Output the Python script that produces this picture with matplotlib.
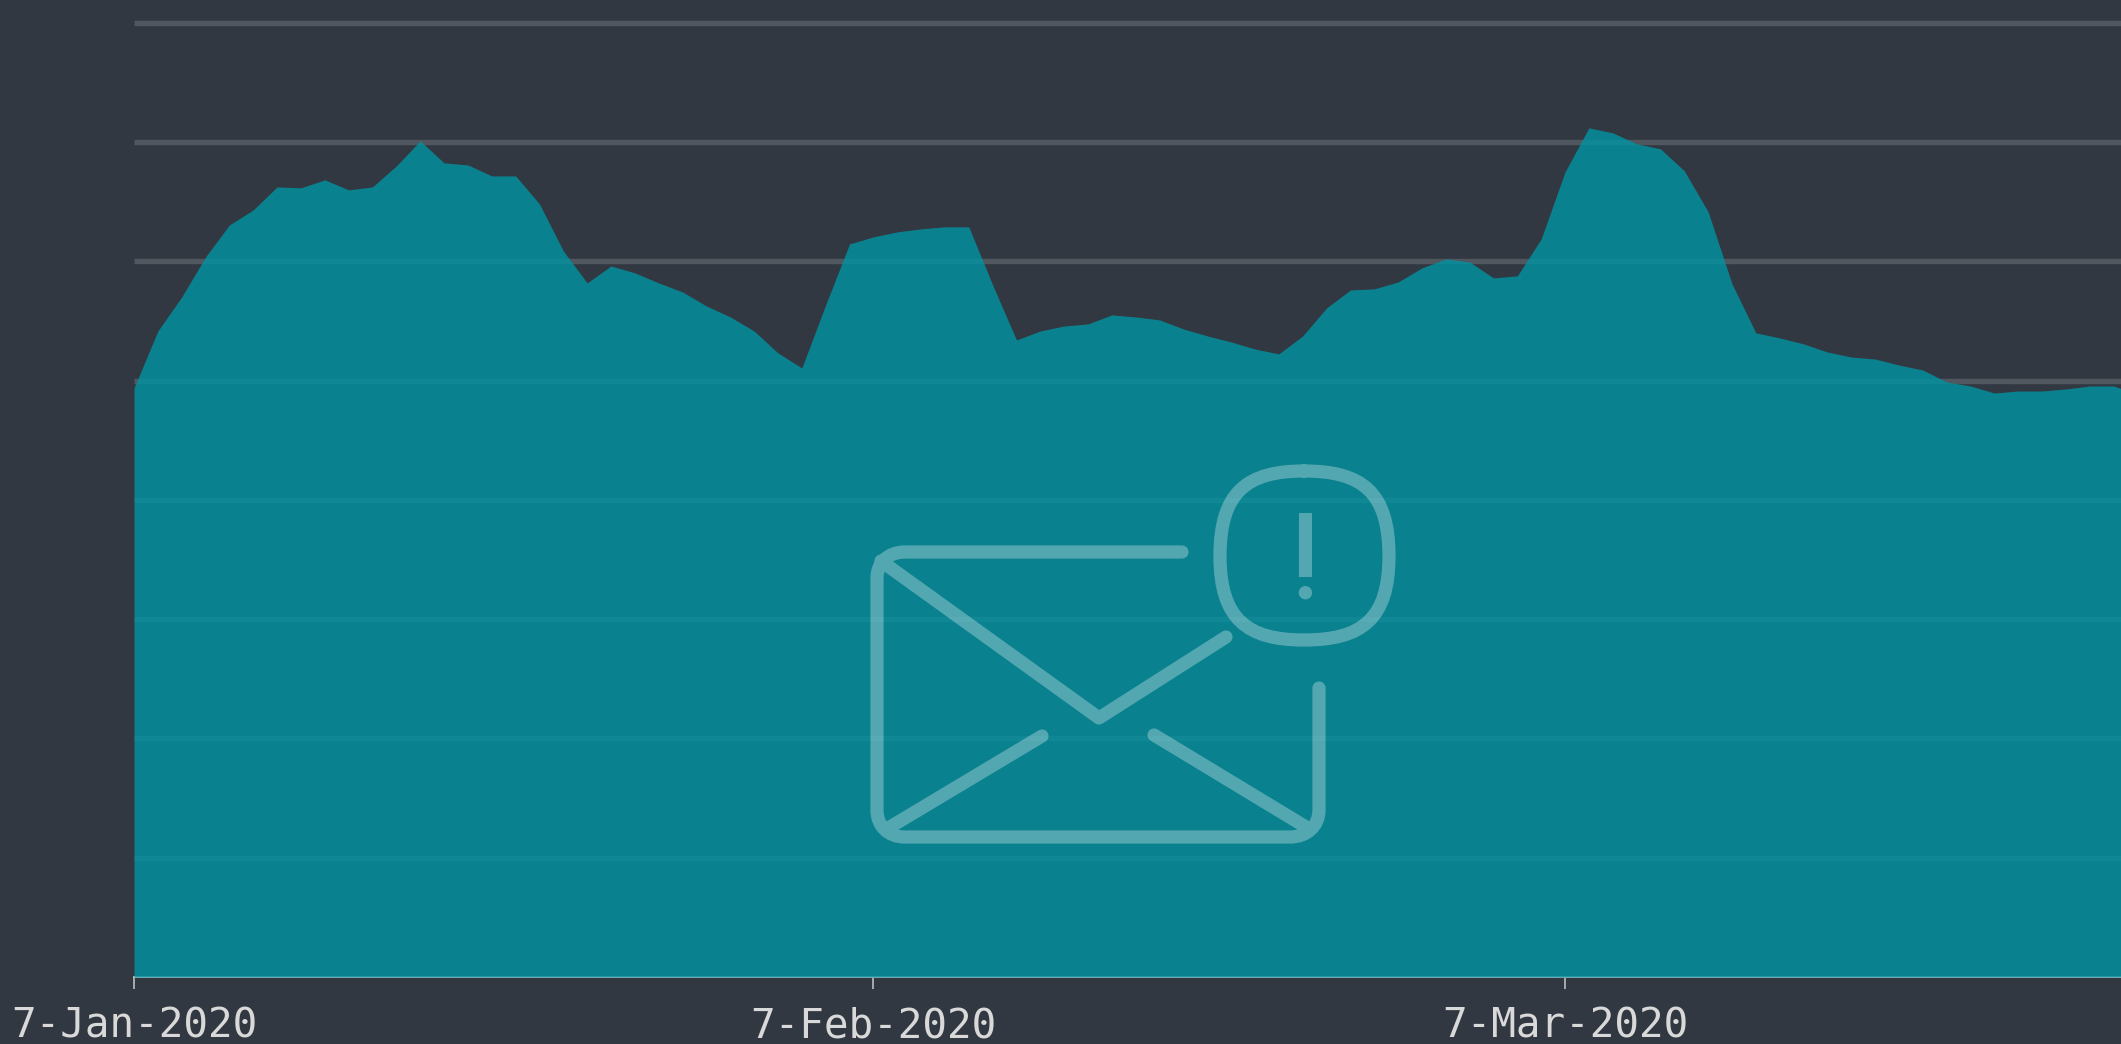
import matplotlib
matplotlib.use("Agg")
import matplotlib.pyplot as plt
import matplotlib.dates as mdates
from matplotlib.path import Path
from matplotlib.patches import PathPatch, Rectangle, Circle
import pandas as pd

start_date = "2020-01-07"
values = [493.7, 541.5, 570.0, 603.6, 630.4, 643.0, 662.3, 661.5, 668.2, 659.8,
          662.3, 679.9, 700.9, 682.4, 680.7, 671.5, 671.5, 648.0, 608.6, 581.8,
          596.0, 590.2, 581.8, 574.2, 562.5, 553.3, 541.5, 523.1, 510.5, 563.4,
          614.5, 620.4, 624.6, 627.1, 628.8, 628.8, 580.1, 534.0, 541.5, 545.7,
          547.4, 555.0, 553.3, 550.8, 543.2, 537.4, 532.3, 526.4, 522.3, 537.4,
          560.8, 575.9, 576.8, 582.6, 594.4, 601.9, 599.4, 586.0, 587.7, 618.7,
          674.9, 711.8, 707.6, 698.4, 694.2, 675.8, 641.4, 581.0, 539.9, 535.7,
          530.7, 523.9, 519.7, 518.0, 513.0, 508.8, 498.8, 495.4, 489.5, 491.2,
          491.2, 492.9, 495.4, 495.4, 488.7]
grid_values = [100, 200, 300, 400, 500, 600, 700, 800]
tick_dates = ["2020-01-07", "2020-02-07", "2020-03-07"]
tick_labels = ["7-Jan-2020", "7-Feb-2020", "7-Mar-2020"]

BG = "#323841"
W, H = 2121, 1044

fig = plt.figure(figsize=(W / 100, H / 100), dpi=100, facecolor=BG)
ax = fig.add_axes([134 / W, (H - 977) / H, (W - 134) / W, 977 / H], facecolor=BG)

dates = pd.date_range(start_date, periods=len(values), freq="D")
ax.fill_between(dates, values, 0, color="#0192a0", alpha=0.82, linewidth=0, zorder=3)
ax.hlines(grid_values, dates[0], dates[-1], color="#50575f", linewidth=3.9, zorder=2)

x0 = mdates.date2num(dates[0])
ax.set_xlim(x0, x0 + 83.31)
ax.set_ylim(0, 818.96)
ax.set_yticks([])
ax.set_xticks(mdates.date2num(pd.to_datetime(tick_dates)))
ax.set_xticklabels(tick_labels, family="DejaVu Sans Mono", fontsize=29.5, color="#d9d9d9")
ax.tick_params(axis="x", length=8.5, width=1.1, color="#c8c8c8", pad=12.5)
for side in ["top", "left", "right"]:
    ax.spines[side].set_visible(False)
ax.spines["bottom"].set_color("#c8c8c8")
ax.spines["bottom"].set_linewidth(1.3)

# icon on top of the chart, in figure pixels
over = fig.add_axes([0, 0, 1, 1], facecolor="none")
over.set_xlim(0, W)
over.set_ylim(H, 0)
over.axis("off")

M, L, C = Path.MOVETO, Path.LINETO, Path.CURVE4
icon = [
    (M, (1182, 552)), (L, (905, 552)),
    (C, (888, 552)), (C, (877, 563)), (C, (877, 578)),
    (L, (877, 810)),
    (C, (877, 826)), (C, (888, 837)), (C, (905, 837)),
    (L, (1290, 837)),
    (C, (1307, 837)), (C, (1319, 826)), (C, (1319, 810)),
    (L, (1319, 688)),
    (M, (881, 561)), (L, (1099, 718)), (L, (1226, 637)),
    (M, (1042, 736)), (L, (890, 827)),
    (M, (1154, 735)), (L, (1306, 827)),
    (M, (1304, 471)),
    (C, (1362, 471)), (C, (1389, 492)), (C, (1389, 556)),
    (C, (1389, 619)), (C, (1362, 640)), (C, (1304, 640)),
    (C, (1247, 640)), (C, (1220, 619)), (C, (1220, 556)),
    (C, (1220, 492)), (C, (1247, 471)), (C, (1304, 471)),
]
codes = [c for c, p in icon]
verts = [p for c, p in icon]
over.add_patch(PathPatch(Path(verts, codes), fill=False, edgecolor="white", alpha=0.3,
                         linewidth=9.5, capstyle="round", joinstyle="round"))
over.add_patch(Rectangle((1298.7, 513.3), 13.3, 63.4, facecolor="white", alpha=0.3, linewidth=0))
over.add_patch(Circle((1305.4, 592.7), 6.7, facecolor="white", alpha=0.3, linewidth=0))

fig.savefig("out.png", dpi=100, facecolor=BG)
